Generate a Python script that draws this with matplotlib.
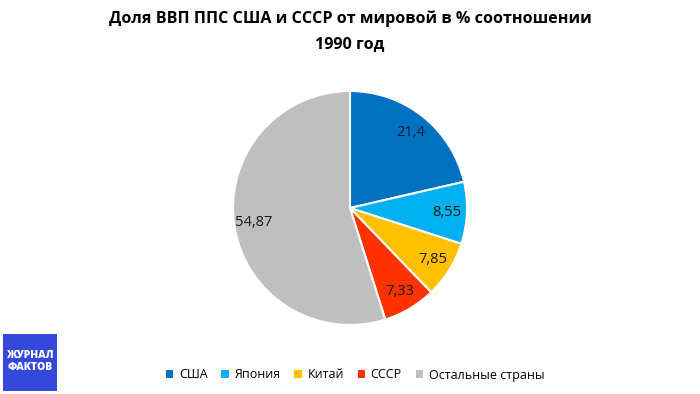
import matplotlib
matplotlib.use('Agg')
import matplotlib.pyplot as plt
from matplotlib.patches import Patch, Rectangle
import numpy as np

plt.rcParams['font.family'] = ['Open Sans', 'DejaVu Sans']

# Data
countries = ['США', 'Япония', 'Китай', 'СССР', 'Остальные страны']
shares = [21.4, 8.55, 7.85, 7.33, 54.87]
share_labels = ['21,4', '8,55', '7,85', '7,33', '54,87']
colors = ['#0070C0', '#00B0F0', '#FFC000', '#FF3300', '#BFBFBF']

fig = plt.figure(figsize=(7, 3.94), dpi=100)

# pie: centre (350, 208) px, radius 117 px
cx, cy, r = 350, 208, 117
ax = fig.add_axes([(cx - r) / 700, (394 - cy - r) / 394, 2 * r / 700, 2 * r / 394])
wedges, texts = ax.pie(shares, colors=colors, startangle=90, counterclock=False,
                       wedgeprops=dict(edgecolor='white', linewidth=1.5))
ax.set_xlim(-1, 1)
ax.set_ylim(-1, 1)

# value labels
for w, lab in zip(wedges, share_labels):
    ang = np.deg2rad((w.theta1 + w.theta2) / 2)
    ax.text(0.83 * np.cos(ang), 0.83 * np.sin(ang), lab, ha='center', va='center',
            fontsize=10.5, color='#1a1a1a')

fig.text(0.5, 1 - 19 / 394, 'Доля ВВП ППС США и СССР от мировой в % соотношении',
         ha='center', va='center', fontsize=11.6, fontweight='bold')
fig.text(0.5, 1 - 44.5 / 394, '1990 год', ha='center', va='center',
         fontsize=11.6, fontweight='bold')

handles = [Patch(facecolor=c, edgecolor='none') for c in colors]
fig.legend(handles, countries, loc='center', bbox_to_anchor=(355 / 700, 1 - 375 / 394),
           ncol=5, frameon=False, fontsize=9, handlelength=0.6, handleheight=0.6,
           handletextpad=0.45, columnspacing=1.1)

# logo
fig.patches.append(Rectangle((3 / 700, 1 - 391 / 394), 54 / 700, 57 / 394,
                             transform=fig.transFigure, facecolor='#3548DC',
                             edgecolor='none'))
fig.text(30 / 700, 1 - 361.5 / 394, 'ЖУРНАЛ\nФАКТОВ', ha='center', va='center',
         fontsize=7.5, fontweight='heavy', color='white', linespacing=1.2)

fig.savefig('out.png', dpi=100)
